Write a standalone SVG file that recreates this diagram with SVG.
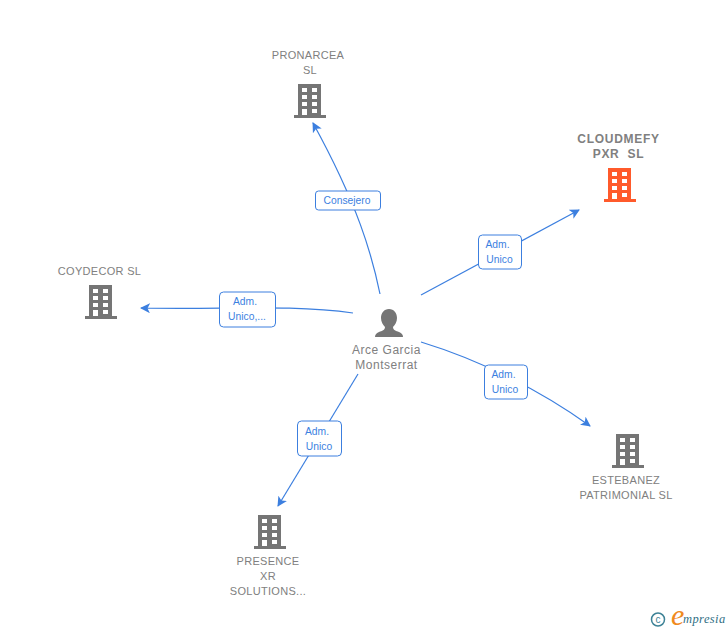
<svg xmlns="http://www.w3.org/2000/svg" width="728" height="630" viewBox="0 0 728 630">
<style>
text{font-family:"Liberation Sans",Arial,sans-serif}
.n{font-size:11px;fill:#808080;text-anchor:middle;letter-spacing:.3px}
.p{font-size:12px;letter-spacing:.5px}
.c{font-weight:bold;font-size:12px;letter-spacing:.7px;white-space:pre}
.l{font-size:10.300px;fill:#3c7fdf;text-anchor:middle}
.e{fill:none;stroke:#3c7fdf;stroke-width:1.2}
.b{fill:#fff;stroke:#3c7fdf;stroke-width:1}
</style>
<defs>
<marker id="a" viewBox="0 0 10 10" refX="9" refY="5" markerWidth="10" markerHeight="10" markerUnits="userSpaceOnUse" orient="auto"><path d="M0 0L10 5L0 10L2.500 5Z" fill="#3c7fdf"/></marker>
<g id="bld"><path fill-rule="evenodd" d="M-13 -17H10V14H15V17H-17V14H-13ZM-9 -13V-9H-4V-13ZM1 -13V-9H6V-13ZM-9 -6V-2H-4V-6ZM1 -6V-2H6V-6ZM-9 1V5H-4V1ZM1 1V5H6V1ZM-9 8V14H-4V8ZM1 8V12H6V8Z"/></g>
</defs>
<g id="connectors">
<path class="e" marker-end="url(#a)" d="M380 294C372 255 358 205 313 123"/>
<path class="e" marker-end="url(#a)" d="M421 295L579 210"/>
<path class="e" marker-end="url(#a)" d="M353 313C290 304 220 310 141 308"/>
<path class="e" marker-end="url(#a)" d="M421 342C480 360 540 390 590 426"/>
<path class="e" marker-end="url(#a)" d="M358 374L278 506"/>
</g>
<g id="edge-labels">
<g><rect class="b" x="315.500" y="191" width="65" height="19" rx="3"/><text class="l" x="347" y="204">Consejero</text></g>
<g><rect class="b" x="478.500" y="235" width="43" height="34" rx="4"/><text class="l" x="497.500" y="248">Adm.</text><text class="l" x="499.500" y="263">Unico</text></g>
<g><rect class="b" x="219.500" y="292" width="56" height="35" rx="4"/><text class="l" x="245" y="305">Adm.</text><text class="l" x="247" y="320">Unico,...</text></g>
<g><rect class="b" x="484.500" y="365" width="43" height="34" rx="4"/><text class="l" x="503.500" y="378">Adm.</text><text class="l" x="505" y="393">Unico</text></g>
<g><rect class="b" x="297.500" y="421" width="44" height="35" rx="4"/><text class="l" x="317" y="435">Adm.</text><text class="l" x="319" y="450">Unico</text></g>
</g>
<g id="node-person">
<path fill="#757575" d="M389 309C394 309 397 313 397 318C397 322 395 325 393 327C393 330 396 331 399 332C402 333 403 335 403 337H375C375 335 376 333 379 332C382 331 385 330 385 327C383 325 381 322 381 318C381 313 384 309 389 309Z"/>
<text class="n p" x="386.500" y="354">Arce Garcia</text>
<text class="n p" x="386.500" y="369">Montserrat</text>
</g>
<g id="node-pronarcea"><use href="#bld" x="311" y="101" fill="#757575"/><text class="n" x="308" y="59">PRONARCEA</text><text class="n" x="310" y="74">SL</text></g>
<g id="node-cloudmefy"><use href="#bld" x="621" y="185" fill="#ff5a2b"/><text class="n c" x="618.500" y="143">CLOUDMEFY</text><text class="n c" x="618.500" y="158">PXR  SL</text></g>
<g id="node-coydecor"><use href="#bld" x="102" y="302" fill="#757575"/><text class="n" x="99.500" y="275">COYDECOR SL</text></g>
<g id="node-estebanez"><use href="#bld" x="629" y="451" fill="#757575"/><text class="n" x="626" y="484">ESTEBANEZ</text><text class="n" x="626" y="499">PATRIMONIAL SL</text></g>
<g id="node-presence"><use href="#bld" x="271" y="532" fill="#757575"/><text class="n" x="268" y="565">PRESENCE</text><text class="n" x="268" y="580">XR</text><text class="n" x="268" y="595">SOLUTIONS...</text></g>
<g id="watermark">
<circle cx="658" cy="619.500" r="6.500" fill="none" stroke="#3d8296" stroke-width="1.500"/>
<text x="658" y="623" text-anchor="middle" style="font-size:10px;fill:#3d8296">c</text>
<text x="671" y="625" style="font-family:'Liberation Serif',serif;font-style:italic;font-size:30px;fill:#f08a1d">e</text>
<text x="683" y="623" style="font-family:'Liberation Serif',serif;font-style:italic;font-size:12.500px;fill:#2f6f84;letter-spacing:.4px">mpresia</text>
</g>
</svg>
